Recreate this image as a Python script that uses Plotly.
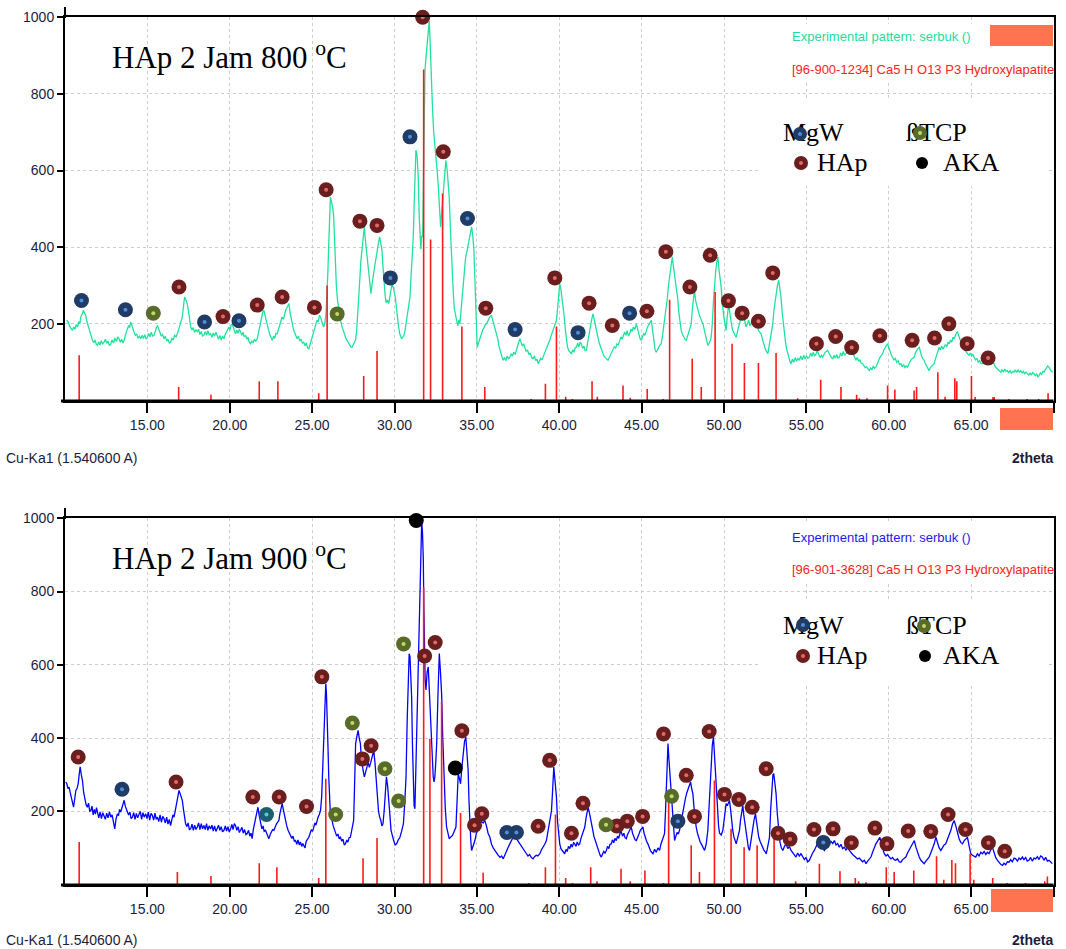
import plotly.graph_objects as go

W, H = 1066, 949
def px(x): return x / W
def py(y): return 1 - y / H

# ---------------- HAp 2 Jam 800 C ----------------
exp800 = [(10.1,210),(10.19,205),(10.27,196),(10.35,188),(10.45,183),(10.52,192),(10.6,186),(10.68,198),(10.76,192),
 (10.84,206),(10.9,200),(10.96,218),(11.04,226),(11.12,235),(11.19,228),(11.26,222),(11.33,206),(11.4,196),(11.46,183),
 (11.53,172),(11.6,165),(11.67,157),(11.75,151),(11.82,158),(11.9,147),(11.97,144),(12.05,153),(12.12,145),(12.2,156),
 (12.28,148),(12.37,152),(12.45,160),(12.53,149),(12.61,155),(12.7,143),(12.78,148),(12.86,158),(12.95,150),(13.03,163),
 (13.12,154),(13.2,166),(13.28,161),(13.36,152),(13.44,160),(13.52,150),(13.59,157),(13.66,170),(13.73,179),(13.79,187),
 (13.86,196),(13.92,190),(13.99,205),(14.06,196),(14.12,186),(14.19,179),(14.27,170),(14.35,174),(14.43,163),(14.52,168),
 (14.6,161),(14.68,170),(14.76,162),(14.84,172),(14.92,160),(15.0,165),(15.08,175),(15.16,166),(15.24,178),(15.32,168),
 (15.4,170),(15.47,182),(15.54,189),(15.61,196),(15.68,185),(15.76,178),(15.84,168),(15.92,172),(16.01,161),(16.09,168),
 (16.17,155),(16.25,160),(16.33,150),(16.41,152),(16.49,163),(16.57,158),(16.65,170),(16.74,166),(16.82,174),(16.9,186),
 (16.98,198),(17.05,210),(17.12,218),(17.19,245),(17.26,270),(17.34,262),(17.42,253),(17.5,232),(17.56,210),(17.63,192),
 (17.7,184),(17.78,190),(17.86,178),(17.95,185),(18.03,179),(18.11,186),(18.19,172),(18.27,180),(18.35,168),(18.43,170),
 (18.51,180),(18.59,170),(18.67,182),(18.75,171),(18.84,174),(18.92,165),(19.0,176),(19.08,168),(19.16,178),(19.24,170),
 (19.32,160),(19.4,170),(19.48,158),(19.56,168),(19.65,161),(19.72,172),(19.8,180),(19.88,186),(19.95,192),(20.02,184),
 (20.08,196),(20.15,200),(20.22,188),(20.28,182),(20.35,174),(20.43,184),(20.51,175),(20.58,186),(20.66,179),(20.74,170),
 (20.81,178),(20.88,166),(20.96,170),(21.04,160),(21.11,165),(21.18,152),(21.26,148),(21.34,156),(21.42,150),(21.5,160),
 (21.58,155),(21.67,161),(21.74,175),(21.8,190),(21.87,209),(21.94,222),(22.0,230),(22.07,235),(22.14,220),(22.2,212),
 (22.27,200),(22.35,185),(22.43,172),(22.5,165),(22.58,157),(22.66,168),(22.73,162),(22.8,175),(22.88,174),(22.96,186),
 (23.03,196),(23.1,205),(23.18,218),(23.26,212),(23.33,228),(23.4,236),(23.47,242),(23.53,248),(23.59,253),(23.66,230),
 (23.72,214),(23.79,200),(23.87,185),(23.95,176),(24.02,168),(24.09,161),(24.17,168),(24.25,155),(24.33,160),(24.41,150),
 (24.49,152),(24.57,143),(24.64,150),(24.72,138),(24.8,135),(24.87,145),(24.95,152),(25.02,162),(25.1,174),(25.17,190),
 (25.23,200),(25.3,209),(25.37,205),(25.44,222),(25.51,218),(25.58,205),(25.64,198),(25.71,192),(25.78,205),(25.85,230),
 (25.91,279),(25.96,340),(26.01,409),(26.06,470),(26.11,531),(26.16,522),(26.21,514),(26.26,500),(26.31,479),(26.36,420),
 (26.41,357),(26.47,300),(26.54,262),(26.62,235),(26.68,222),(26.75,205),(26.82,192),(26.9,180),(26.97,172),(27.05,162),
 (27.12,157),(27.2,150),(27.27,145),(27.35,140),(27.42,139),(27.5,145),(27.57,150),(27.63,157),(27.7,180),(27.77,220),
 (27.83,261),(27.9,320),(27.96,365),(28.03,392),(28.1,430),(28.17,453),(28.23,420),(28.29,392),(28.36,360),(28.43,331),
 (28.5,300),(28.57,279),(28.63,300),(28.68,322),(28.73,331),(28.8,350),(28.87,372),(28.94,392),(29.02,410),(29.1,427),
 (29.17,405),(29.24,392),(29.3,350),(29.37,300),(29.44,270),(29.5,255),(29.57,262),(29.65,253),(29.72,275),(29.78,290),
 (29.85,305),(29.92,296),(29.98,282),(30.05,270),(30.12,240),(30.18,212),(30.25,192),(30.31,175),(30.37,168),(30.43,161),
 (30.5,165),(30.57,170),(30.64,183),(30.72,205),(30.8,225),(30.87,248),(30.94,270),(31.0,320),(31.07,380),(31.14,427),
 (31.2,520),(31.25,600),(31.3,653),(31.37,640),(31.44,584),(31.5,480),(31.55,409),(31.6,395),(31.65,430),(31.71,427),
 (31.78,650),(31.85,862),(31.92,900),(31.99,941),(32.05,960),(32.11,990),(32.15,950),(32.19,888),(32.25,820),(32.31,758),
 (32.38,700),(32.45,671),(32.52,640),(32.59,600),(32.66,557),(32.73,500),(32.8,453),(32.88,500),(32.96,549),(33.04,590),
 (33.12,627),(33.2,600),(33.26,570),(33.32,531),(33.4,440),(33.48,350),(33.57,279),(33.63,240),(33.7,220),(33.77,209),
 (33.85,195),(33.9,210),(33.97,200),(34.05,240),(34.1,280),(34.17,322),(34.25,350),(34.32,375),(34.4,390),(34.47,409),
 (34.55,425),(34.62,440),(34.68,453),(34.75,430),(34.82,392),(34.88,300),(34.95,200),(35.02,139),(35.1,150),(35.18,162),
 (35.28,174),(35.36,185),(35.44,190),(35.52,198),(35.59,200),(35.67,210),(35.75,215),(35.82,220),(35.89,222),(35.96,210),
 (36.03,200),(36.11,185),(36.19,174),(36.27,160),(36.35,140),(36.43,125),(36.52,115),(36.6,105),(36.68,112),(36.76,104),
 (36.84,116),(36.92,108),(37.0,113),(37.08,122),(37.16,116),(37.24,126),(37.32,120),(37.4,131),(37.47,145),(37.54,152),
 (37.61,161),(37.68,150),(37.76,142),(37.84,148),(37.91,139),(37.99,128),(38.07,132),(38.16,120),(38.24,124),(38.33,112),
 (38.41,109),(38.49,116),(38.57,104),(38.65,108),(38.72,96),(38.8,104),(38.88,110),(38.95,106),(39.02,113),(39.1,122),
 (39.18,130),(39.26,140),(39.34,148),(39.42,157),(39.5,168),(39.58,178),(39.66,190),(39.75,200),(39.83,209),(39.9,240),
 (39.97,280),(40.03,305),(40.1,290),(40.17,270),(40.23,253),(40.3,220),(40.37,185),(40.43,157),(40.5,140),(40.58,130),
 (40.66,126),(40.74,122),(40.82,132),(40.9,126),(40.97,138),(41.04,139),(41.12,150),(41.19,140),(41.27,152),(41.34,148),
 (41.42,136),(41.5,142),(41.57,130),(41.65,131),(41.72,150),(41.8,172),(41.88,190),(41.96,210),(42.05,226),(42.12,210),
 (42.2,190),(42.27,178),(42.35,165),(42.43,150),(42.51,138),(42.58,128),(42.66,122),(42.73,115),(42.81,110),(42.88,108),
 (42.96,105),(43.04,112),(43.11,120),(43.19,126),(43.26,131),(43.34,140),(43.42,136),(43.5,148),(43.58,145),(43.67,157),
 (43.75,166),(43.82,160),(43.9,172),(43.97,179),(44.05,170),(44.12,182),(44.2,168),(44.27,174),(44.35,186),(44.42,180),
 (44.5,192),(44.58,185),(44.68,200),(44.75,188),(44.83,170),(44.9,162),(44.98,157),(45.06,168),(45.13,175),(45.2,170),
 (45.28,183),(45.36,192),(45.44,198),(45.52,205),(45.59,209),(45.66,185),(45.74,150),(45.82,132),(45.89,126),(45.97,135),
 (46.05,140),(46.12,145),(46.19,148),(46.27,170),(46.35,195),(46.42,215),(46.5,235),(46.57,270),(46.63,300),(46.7,322),
 (46.78,350),(46.86,375),(46.93,350),(47.0,330),(47.1,305),(47.18,270),(47.26,230),(47.33,205),(47.4,183),(47.48,172),
 (47.56,165),(47.63,160),(47.71,157),(47.79,168),(47.87,178),(47.94,190),(48.01,200),(48.08,240),(48.14,270),(48.21,287),
 (48.28,260),(48.35,245),(48.41,235),(48.49,225),(48.57,215),(48.64,208),(48.72,200),(48.8,185),(48.87,170),(48.95,155),
 (49.02,144),(49.1,150),(49.16,155),(49.22,165),(49.29,200),(49.36,260),(49.42,305),(49.5,340),(49.56,360),(49.63,375),
 (49.7,340),(49.76,320),(49.83,296),(49.88,260),(49.93,235),(50.0,215),(50.06,200),(50.13,183),(50.2,220),(50.25,240),
 (50.29,253),(50.35,230),(50.42,205),(50.48,192),(50.53,183),(50.6,175),(50.67,170),(50.74,165),(50.8,180),(50.87,190),
 (50.94,200),(51.0,212),(51.07,225),(51.14,235),(51.2,220),(51.27,200),(51.34,192),(51.42,200),(51.5,210),(51.57,195),
 (51.65,200),(51.72,215),(51.8,205),(51.88,212),(51.95,200),(52.03,190),(52.1,182),(52.18,178),(52.25,174),(52.33,160),
 (52.42,145),(52.5,135),(52.58,128),(52.66,122),(52.73,140),(52.81,160),(52.88,182),(52.96,200),(53.03,235),(53.1,260),
 (53.16,279),(53.24,300),(53.32,314),(53.39,295),(53.46,270),(53.53,230),(53.6,200),(53.67,174),(53.74,150),(53.8,135),
 (53.87,122),(53.94,110),(54.0,102),(54.07,96),(54.15,108),(54.23,100),(54.32,112),(54.4,102),(54.49,110),(54.58,105),
 (54.66,116),(54.75,106),(54.84,118),(54.92,108),(55.01,117),(55.09,110),(55.18,113),(55.26,124),(55.34,115),(55.42,126),
 (55.5,116),(55.59,122),(55.67,130),(55.75,120),(55.83,112),(55.91,118),(55.99,113),(56.07,120),(56.14,126),(56.22,128),
 (56.29,131),(56.37,124),(56.44,116),(56.52,112),(56.6,109),(56.68,118),(56.76,110),(56.84,120),(56.92,111),(57.0,113),
 (57.08,124),(57.16,116),(57.24,128),(57.32,118),(57.4,122),(57.48,130),(57.55,134),(57.63,136),(57.71,139),(57.78,128),
 (57.86,118),(57.93,110),(58.01,105),(58.09,112),(58.17,102),(58.25,106),(58.33,97),(58.41,96),(58.49,90),(58.57,86),
 (58.65,88),(58.74,82),(58.82,78),(58.9,85),(58.98,80),(59.06,90),(59.14,84),(59.22,87),(59.3,96),(59.38,104),(59.46,112),
 (59.55,118),(59.63,122),(59.7,132),(59.78,140),(59.86,144),(59.93,148),(60.0,138),(60.08,125),(60.16,118),(60.23,113),
 (60.31,106),(60.4,110),(60.48,100),(60.57,104),(60.65,94),(60.74,96),(60.82,88),(60.9,94),(60.98,86),(61.06,90),
 (61.14,87),(61.22,96),(61.3,104),(61.38,108),(61.46,110),(61.55,113),(61.62,125),(61.7,132),(61.78,136),(61.85,139),
 (61.93,125),(62.0,115),(62.08,108),(62.15,105),(62.23,96),(62.3,90),(62.38,84),(62.45,78),(62.53,86),(62.6,90),
 (62.68,94),(62.76,96),(62.83,108),(62.91,120),(62.99,130),(63.06,139),(63.14,132),(63.21,142),(63.29,134),(63.36,139),
 (63.44,146),(63.52,140),(63.6,152),(63.67,148),(63.75,158),(63.82,152),(63.9,165),(63.97,161),(64.04,172),(64.1,176),
 (64.17,179),(64.25,168),(64.33,160),(64.4,150),(64.48,148),(64.56,138),(64.63,132),(64.71,126),(64.78,122),(64.87,118),
 (64.95,124),(65.03,116),(65.1,120),(65.18,113),(65.27,106),(65.35,110),(65.43,100),(65.52,104),(65.6,96),(65.69,96),
 (65.77,104),(65.84,100),(65.92,108),(65.99,105),(66.07,98),(66.15,102),(66.23,94),(66.31,99),(66.39,96),(66.47,88),
 (66.55,84),(66.63,80),(66.72,78),(66.8,74),(66.88,80),(66.96,75),(67.04,82),(67.12,76),(67.2,78),(67.28,72),(67.36,79),
 (67.44,71),(67.53,76),(67.61,74),(67.69,80),(67.77,73),(67.85,80),(67.93,74),(68.01,78),(68.09,72),(68.17,76),(68.25,70),
 (68.33,74),(68.41,70),(68.5,66),(68.58,72),(68.66,66),(68.74,73),(68.82,70),(68.9,64),(68.98,70),(69.05,62),(69.12,65),
 (69.2,72),(69.27,68),(69.35,76),(69.42,74),(69.5,80),(69.58,84),(69.65,90),(69.73,87),(69.8,80),(69.87,76),(69.95,74)]
exp800_x = [p[0] for p in exp800]
exp800_y = [p[1] for p in exp800]

ref800_pos = [10.86,16.9,18.86,21.79,22.92,25.4,25.91,28.13,28.94,31.77,32.19,32.92,34.09,35.48,38.3,
              39.16,39.83,40.39,40.8,41.99,42.31,43.87,44.31,45.34,46.3,46.7,48.07,48.62,49.46,50.49,
              51.24,52.09,53.16,54.47,55.87,57.1,58.05,58.21,58.68,59.93,60.37,61.54,61.69,62.98,63.42,
              64.01,64.13,65.02,65.24,66.33,66.4,67.3,68.4,69.1,69.67]
ref800_h = [118,35,15,50,50,19,300,64,129,864,420,540,193,35,4,44,193,10,4,50,10,39,7,30,4,263,109,35,283,148,
            98,98,124,6,54,35,15,6,6,39,29,26,35,74,10,58,50,64,9,9,9,4,4,4,19]

hap800_x = [16.92,19.59,21.67,23.18,25.14,25.85,27.9,28.94,31.71,32.96,35.54,39.73,41.81,43.22,45.32,46.47,
            47.93,49.16,50.27,51.1,52.09,52.96,55.61,56.78,57.75,59.46,61.42,62.78,63.65,64.76,66.03]
hap800_y = [296,219,249,270,243,550,468,457,1000,649,241,320,254,196,233,388,296,379,260,228,207,333,148,167,
            138,169,157,163,200,148,111]
mgw800_x = [11.0,13.67,18.47,20.56,29.75,30.94,34.43,37.32,41.14,44.27]
mgw800_y = [261,237,205,208,320,688,475,185,177,228]
tcp800_x = [15.36,26.52]
tcp800_y = [228,226]

# ---------------- HAp 2 Jam 900 C ----------------
exp900 = [(10.05,280),(10.11,275),(10.18,262),(10.25,266),(10.32,250),(10.39,239),(10.45,225),(10.52,211),(10.59,240),
 (10.66,257),(10.73,262),(10.8,275),(10.86,300),(10.92,321),(10.99,300),(11.06,284),(11.13,252),(11.2,230),(11.28,218),
 (11.36,211),(11.43,222),(11.5,200),(11.57,202),(11.64,214),(11.71,190),(11.78,205),(11.85,192),(11.91,210),(11.97,193),
 (12.05,182),(12.13,198),(12.21,180),(12.29,196),(12.37,189),(12.45,178),(12.53,195),(12.61,182),(12.7,198),(12.78,184),
 (12.86,190),(12.94,175),(13.02,152),(13.1,180),(13.18,193),(13.25,188),(13.31,205),(13.38,198),(13.45,210),(13.52,222),
 (13.59,230),(13.66,214),(13.72,206),(13.79,202),(13.86,190),(13.94,198),(14.01,180),(14.09,184),(14.17,196),(14.25,178),
 (14.33,194),(14.41,182),(14.49,189),(14.57,200),(14.65,178),(14.73,196),(14.81,184),(14.9,193),(14.98,180),(15.06,198),
 (15.14,176),(15.22,194),(15.3,189),(15.38,176),(15.46,195),(15.54,178),(15.61,184),(15.69,172),(15.77,190),(15.85,170),
 (15.93,186),(16.01,180),(16.09,168),(16.17,184),(16.25,165),(16.33,178),(16.41,161),(16.48,175),(16.55,190),(16.62,184),
 (16.7,205),(16.78,230),(16.85,245),(16.92,257),(16.99,248),(17.05,240),(17.12,230),(17.19,205),(17.25,180),(17.32,166),
 (17.4,158),(17.47,168),(17.55,150),(17.63,152),(17.71,165),(17.79,148),(17.87,162),(17.95,150),(18.03,157),(18.11,168),
 (18.19,150),(18.27,166),(18.35,152),(18.43,161),(18.51,150),(18.59,166),(18.67,148),(18.75,160),(18.84,152),(18.92,162),
 (19.0,146),(19.08,160),(19.16,145),(19.24,152),(19.32,162),(19.4,148),(19.48,158),(19.56,144),(19.65,148),(19.73,160),
 (19.81,146),(19.89,158),(19.97,143),(20.05,152),(20.13,164),(20.2,150),(20.28,166),(20.35,161),(20.43,148),(20.51,158),
 (20.58,142),(20.66,148),(20.74,156),(20.82,140),(20.9,150),(20.98,136),(21.06,139),(21.14,148),(21.22,132),(21.29,140),
 (21.36,125),(21.43,150),(21.5,165),(21.57,175),(21.64,195),(21.71,211),(21.78,190),(21.84,172),(21.87,166),(21.95,152),
 (22.02,160),(22.09,145),(22.17,148),(22.25,138),(22.31,130),(22.37,125),(22.45,136),(22.53,142),(22.6,150),(22.68,148),
 (22.76,158),(22.83,165),(22.91,170),(22.98,175),(23.05,195),(23.11,210),(23.18,221),(23.25,205),(23.31,190),(23.38,175),
 (23.46,160),(23.54,148),(23.61,140),(23.69,134),(23.77,126),(23.84,132),(23.92,118),(23.99,120),(24.07,110),(24.14,122),
 (24.22,108),(24.29,116),(24.37,104),(24.43,112),(24.49,107),(24.57,100),(24.64,118),(24.72,122),(24.8,129),(24.88,140),
 (24.95,150),(25.03,145),(25.1,157),(25.17,168),(25.23,162),(25.3,175),(25.37,185),(25.44,192),(25.51,202),(25.58,240),
 (25.65,321),(25.7,400),(25.75,476),(25.79,520),(25.83,549),(25.87,520),(25.91,476),(25.96,380),(26.01,294),(26.06,230),
 (26.11,190),(26.16,180),(26.21,175),(26.28,160),(26.34,150),(26.41,143),(26.49,132),(26.57,138),(26.64,125),(26.72,129),
 (26.8,118),(26.87,124),(26.95,108),(27.02,111),(27.1,120),(27.17,116),(27.25,128),(27.32,129),(27.39,145),(27.46,160),
 (27.52,175),(27.57,260),(27.61,330),(27.64,385),(27.72,405),(27.79,421),(27.86,400),(27.93,385),(27.98,350),(28.03,330),
 (28.1,310),(28.17,294),(28.25,312),(28.33,321),(28.4,335),(28.47,320),(28.54,330),(28.61,345),(28.68,355),(28.74,366),
 (28.82,330),(28.9,275),(28.97,230),(29.03,200),(29.1,184),(29.17,175),(29.23,160),(29.3,166),(29.37,200),(29.44,250),
 (29.51,294),(29.58,270),(29.65,239),(29.72,190),(29.79,148),(29.87,130),(29.95,120),(30.04,108),(30.13,111),(30.23,122),
 (30.33,129),(30.43,145),(30.54,166),(30.62,220),(30.7,294),(30.77,450),(30.84,613),(30.89,630),(30.94,622),(30.99,560),
 (31.04,512),(31.09,380),(31.14,248),(31.19,215),(31.24,207),(31.29,300),(31.34,385),(31.39,470),(31.44,567),(31.5,700),
 (31.55,840),(31.6,940),(31.65,991),(31.7,960),(31.75,886),(31.78,760),(31.81,631),(31.86,560),(31.91,531),(31.98,580),
 (32.05,594),(32.1,540),(32.15,485),(32.2,420),(32.25,366),(32.3,320),(32.35,294),(32.4,280),(32.45,294),(32.5,330),
 (32.56,385),(32.64,520),(32.72,631),(32.79,580),(32.86,521),(32.93,400),(33.0,294),(33.08,210),(33.16,157),(33.24,135),
 (33.32,125),(33.42,130),(33.52,134),(33.62,145),(33.73,157),(33.8,230),(33.87,303),(33.94,290),(34.01,275),(34.09,320),
 (34.17,366),(34.25,390),(34.33,403),(34.4,360),(34.47,312),(34.52,230),(34.58,157),(34.63,120),(34.68,93),(34.78,105),
 (34.88,120),(34.97,140),(35.08,150),(35.18,166),(35.28,172),(35.38,168),(35.48,175),(35.58,160),(35.68,140),(35.79,129),
 (35.89,110),(35.99,100),(36.09,92),(36.19,84),(36.29,80),(36.4,74),(36.5,78),(36.6,70),(36.7,82),(36.8,90),(36.9,102),
 (37.0,111),(37.1,122),(37.2,130),(37.3,139),(37.4,125),(37.5,118),(37.61,111),(37.7,102),(37.8,95),(37.9,90),(38.01,84),
 (38.1,78),(38.2,82),(38.3,74),(38.41,70),(38.5,76),(38.6,80),(38.7,78),(38.82,84),(38.92,95),(39.02,102),(39.12,110),
 (39.22,120),(39.3,140),(39.38,165),(39.46,185),(39.53,202),(39.6,260),(39.67,321),(39.75,280),(39.83,239),(39.9,170),
 (39.96,130),(40.03,111),(40.1,98),(40.18,92),(40.25,88),(40.33,84),(40.41,96),(40.48,90),(40.56,104),(40.64,98),
 (40.72,110),(40.79,102),(40.87,114),(40.94,111),(41.02,104),(41.09,116),(41.17,108),(41.24,111),(41.32,126),(41.4,138),
 (41.47,148),(41.55,157),(41.62,180),(41.68,198),(41.75,211),(41.82,198),(41.88,186),(41.95,175),(42.03,150),(42.1,132),
 (42.18,120),(42.25,111),(42.33,100),(42.4,88),(42.48,80),(42.55,75),(42.63,84),(42.7,90),(42.78,86),(42.86,93),
 (42.93,104),(43.01,98),(43.08,110),(43.16,111),(43.23,122),(43.31,114),(43.38,126),(43.46,120),(43.54,132),(43.61,126),
 (43.69,140),(43.77,143),(43.84,132),(43.92,140),(43.99,128),(44.07,125),(44.14,136),(44.22,145),(44.3,150),(44.37,157),
 (44.45,140),(44.53,130),(44.6,122),(44.68,120),(44.76,132),(44.84,138),(44.92,148),(45.0,152),(45.08,157),(45.15,140),
 (45.23,126),(45.3,118),(45.38,111),(45.46,100),(45.54,92),(45.61,88),(45.69,84),(45.79,96),(45.89,88),(45.99,100),
 (46.09,93),(46.17,110),(46.24,120),(46.32,130),(46.39,139),(46.45,200),(46.52,300),(46.6,385),(46.66,340),(46.73,290),
 (46.8,248),(46.87,190),(46.93,140),(47.0,120),(47.08,132),(47.15,142),(47.23,138),(47.3,148),(47.37,165),(47.44,185),
 (47.5,202),(47.58,220),(47.66,235),(47.74,250),(47.82,262),(47.9,272),(47.97,280),(48.04,262),(48.11,248),(48.18,210),
 (48.24,180),(48.31,157),(48.39,140),(48.47,126),(48.54,118),(48.62,111),(48.72,100),(48.82,93),(48.92,110),(49.02,148),
 (49.08,200),(49.15,270),(49.22,339),(49.29,380),(49.36,403),(49.44,340),(49.52,275),(49.6,200),(49.67,160),(49.73,140),
 (49.83,135),(49.93,148),(50.0,180),(50.07,205),(50.13,221),(50.2,215),(50.27,225),(50.33,230),(50.4,205),(50.47,170),
 (50.53,148),(50.6,130),(50.67,118),(50.74,111),(50.8,122),(50.87,135),(50.94,148),(51.0,175),(51.07,200),(51.14,216),
 (51.2,190),(51.27,165),(51.34,148),(51.41,120),(51.48,100),(51.55,93),(51.62,115),(51.69,140),(51.75,157),(51.83,178),
 (51.91,193),(51.98,170),(52.04,148),(52.11,129),(52.19,118),(52.27,108),(52.35,102),(52.42,94),(52.49,90),(52.56,84),
 (52.62,95),(52.69,110),(52.76,129),(52.84,210),(52.92,294),(52.97,300),(53.02,303),(53.09,280),(53.16,248),(53.24,190),
 (53.32,139),(53.4,115),(53.48,100),(53.57,93),(53.67,104),(53.77,111),(53.87,98),(53.97,104),(54.07,93),(54.17,86),
 (54.27,80),(54.37,75),(54.47,86),(54.57,78),(54.67,84),(54.78,75),(54.88,68),(54.98,74),(55.08,62),(55.18,66),
 (55.28,78),(55.38,86),(55.48,93),(55.58,104),(55.68,112),(55.79,120),(55.89,108),(55.99,100),(56.09,93),(56.19,102),
 (56.29,108),(56.39,111),(56.49,118),(56.6,112),(56.7,120),(56.8,108),(56.9,112),(57.0,102),(57.1,110),(57.2,98),
 (57.3,102),(57.4,94),(57.5,100),(57.61,93),(57.71,86),(57.81,82),(57.91,78),(58.01,75),(58.11,70),(58.21,72),
 (58.31,66),(58.41,62),(58.52,66),(58.62,57),(58.72,64),(58.82,70),(58.92,75),(59.02,88),(59.12,100),(59.22,111),
 (59.34,120),(59.46,129),(59.55,110),(59.64,94),(59.73,84),(59.83,78),(59.93,82),(60.03,75),(60.13,70),(60.23,74),
 (60.33,68),(60.43,66),(60.53,70),(60.64,62),(60.74,61),(60.84,68),(60.94,72),(61.04,75),(61.14,86),(61.24,95),
 (61.34,102),(61.44,112),(61.55,120),(61.65,102),(61.75,86),(61.85,75),(61.95,66),(62.05,62),(62.15,57),(62.25,64),
 (62.35,70),(62.45,75),(62.55,86),(62.66,98),(62.76,111),(62.86,129),(62.96,112),(63.06,100),(63.16,93),(63.26,102),
 (63.36,108),(63.46,111),(63.56,122),(63.67,135),(63.77,148),(63.87,165),(63.97,175),(64.07,160),(64.17,139),(64.27,125),
 (64.37,115),(64.48,111),(64.58,120),(64.68,126),(64.78,129),(64.88,105),(64.98,84),(65.08,80),(65.18,78),(65.28,75),
 (65.38,84),(65.48,78),(65.59,88),(65.69,84),(65.79,90),(65.89,82),(65.99,88),(66.09,84),(66.19,95),(66.29,102),
 (66.39,88),(66.49,74),(66.6,66),(66.7,60),(66.8,55),(66.9,52),(67.0,58),(67.1,54),(67.2,62),(67.3,61),(67.4,68),
 (67.5,62),(67.61,72),(67.71,70),(67.81,64),(67.91,72),(68.01,68),(68.11,75),(68.21,68),(68.31,74),(68.41,64),
 (68.51,66),(68.61,74),(68.71,64),(68.82,72),(68.92,70),(69.02,76),(69.12,68),(69.22,78),(69.32,75),(69.42,66),
 (69.52,74),(69.63,64),(69.73,66),(69.83,60),(69.93,57)]
exp900_x = [p[0] for p in exp900]
exp900_y = [p[1] for p in exp900]

ref900_pos = [10.86,16.82,18.86,21.79,22.86,25.4,25.83,28.09,28.94,31.77,32.15,32.86,34.01,35.38,38.15,
              39.16,39.77,40.39,40.8,41.91,42.29,43.75,44.31,45.2,46.33,46.64,48.01,48.51,49.42,50.43,
              51.22,52.01,53.04,54.35,55.79,57.04,57.97,58.17,58.62,59.85,60.33,61.52,62.9,63.34,63.83,
              64.05,64.94,65.16,66.31,67.2,68.3,69.47,69.63]
ref900_h = [116,34,23,58,47,18,289,72,127,811,398,499,195,32,4,47,191,18,4,47,9,43,9,38,4,250,107,34,284,152,
            102,107,125,9,57,36,18,9,6,47,34,38,77,13,67,58,84,13,18,4,4,9,22]

hap900_x = [10.8,16.74,21.4,23.0,24.66,25.59,28.05,28.58,31.83,32.47,34.09,34.86,35.3,38.72,39.42,40.74,41.44,
            43.5,44.13,45.06,46.33,47.71,48.21,49.1,50.03,50.9,51.71,52.56,53.28,54.01,55.46,56.62,57.73,59.16,
            59.89,61.18,62.55,63.6,64.66,66.05,67.04]
hap900_y = [348,280,239,239,213,567,343,379,624,661,420,162,193,159,339,140,222,160,173,186,411,298,186,418,
            246,232,211,316,140,124,150,152,114,154,111,146,145,191,150,114,91]
mgw900_x = [13.46,36.82,37.4,47.2,56.03]
mgw900_y = [260,142,142,173,115]
tcp900_x = [26.43,27.44,29.42,30.25,30.55,42.84,46.82]
tcp900_y = [191,441,316,228,657,163,241]
aka900_x = [31.32,33.69]
aka900_y = [994,318]
unk900_x = [22.23]
unk900_y = [191]

tick_vals = [15, 20, 25, 30, 35, 40, 45, 50, 55, 60, 65, 70]
tick_text = ["%.2f" % v for v in tick_vals]
ytick_vals = [200, 400, 600, 800, 1000]
phase_names = ["MgW", "ßTCP", "HAp", "AKA"]

# ---------------- styles ----------------
C_HAP, C_HAP_IN = "#6a1e1e", "#e46a6a"
C_MGW, C_MGW_IN = "#1f3b66", "#4f8fd6"
C_TCP, C_TCP_IN = "#586b29", "#c2d86a"
C_UNK, C_UNK_IN = "#1d5e6e", "#5cc6da"
SANS = "Liberation Sans, Arial, sans-serif"
SERIF = "Liberation Serif, Times New Roman, serif"
DARK = "#1c1c3c"

fig = go.Figure()

def sticks(pos, h):
    xs, ys = [], []
    for p, v in zip(pos, h):
        xs += [p, p, None]
        ys += [0, v, None]
    return xs, ys

def add_markers(x, y, outer, inner, xa, ya, size=15):
    fig.add_trace(go.Scatter(x=x, y=y, mode="markers", xaxis=xa, yaxis=ya, showlegend=False, cliponaxis=False,
                             marker=dict(size=size, color=outer, opacity=1, line=dict(width=0))))
    if inner:
        fig.add_trace(go.Scatter(x=x, y=y, mode="markers", xaxis=xa, yaxis=ya, showlegend=False,
                                 cliponaxis=False, marker=dict(size=4, color=inner, opacity=1, line=dict(width=0))))

# top panel
fig.add_trace(go.Scatter(x=exp800_x, y=exp800_y, mode="lines", xaxis="x", yaxis="y", showlegend=False,
                         line=dict(color="#1fe29c", width=1.3)))
sx, sy = sticks(ref800_pos, ref800_h)
fig.add_trace(go.Scatter(x=sx, y=sy, mode="lines", xaxis="x", yaxis="y", showlegend=False,
                         line=dict(color="#ff1a1a", width=1.6)))
add_markers(hap800_x, hap800_y, C_HAP, C_HAP_IN, "x", "y")
add_markers(mgw800_x, mgw800_y, C_MGW, C_MGW_IN, "x", "y")
add_markers(tcp800_x, tcp800_y, C_TCP, C_TCP_IN, "x", "y")

# bottom panel
fig.add_trace(go.Scatter(x=exp900_x, y=exp900_y, mode="lines", xaxis="x2", yaxis="y2", showlegend=False,
                         line=dict(color="#0000ff", width=1.3)))
sx, sy = sticks(ref900_pos, ref900_h)
fig.add_trace(go.Scatter(x=sx, y=sy, mode="lines", xaxis="x2", yaxis="y2", showlegend=False,
                         line=dict(color="#ff1a1a", width=1.6)))
add_markers(hap900_x, hap900_y, C_HAP, C_HAP_IN, "x2", "y2")
add_markers(mgw900_x, mgw900_y, C_MGW, C_MGW_IN, "x2", "y2")
add_markers(tcp900_x, tcp900_y, C_TCP, C_TCP_IN, "x2", "y2")
add_markers(unk900_x, unk900_y, C_UNK, C_UNK_IN, "x2", "y2")
add_markers(aka900_x, aka900_y, "#000000", None, "x2", "y2")

# ---------- overlay (pixel space) for the phase legends ----------
def ov(**kw):
    fig.add_trace(go.Scatter(xaxis="x3", yaxis="y3", showlegend=False, cliponaxis=False, hoverinfo="skip", **kw))

for off, loff in [(0, 0), (500, 493)]:
    for (x0, y0, x1, y1) in [(785, 24 + off, 1051, 82 + off), (760, 100 + off, 1047, 186 + off)]:
        ov(x=[x0, x1, x1, x0, x0], y=[y0, y0, y1, y1, y0], mode="lines", fill="toself",
           fillcolor="white", line=dict(width=0))
    ov(x=[783, 906, 817, 943], y=[134 + loff, 134 + loff, 164 + loff, 164 + loff], mode="text",
       text=phase_names, textposition="middle right", textfont=dict(family=SERIF, size=26, color="black"))

leg_x = [800, 920, 801, 922, 803, 924, 803, 925]
leg_y = [134, 133, 163, 163, 625, 626, 656, 656]
leg_c = [C_MGW, C_TCP, C_HAP, "#000000"] * 2
leg_ci = [C_MGW_IN, C_TCP_IN, C_HAP_IN, "#000000"] * 2
leg_s = [14, 14, 14, 12] * 2
ov(x=leg_x, y=leg_y, mode="markers", marker=dict(size=leg_s, color=leg_c, opacity=1, line=dict(width=0)))
ov(x=leg_x, y=leg_y, mode="markers", marker=dict(size=4, color=leg_ci, opacity=1, line=dict(width=0)))

xdom = [px(65), px(1053.5)]
axis_common = dict(showline=True, linecolor="black", linewidth=2, mirror=True, automargin=False,
                   showgrid=True, gridcolor="#cdcdcd", gridwidth=1, griddash="dot", zeroline=False,
                   ticks="outside", tickcolor="black", tickwidth=1.5)
tfont = dict(family=SANS, size=14, color=DARK)

fig.update_layout(
    width=W, height=H, margin=dict(l=0, r=0, t=0, b=0, autoexpand=False),
    paper_bgcolor="white", plot_bgcolor="rgba(0,0,0,0)", showlegend=False,
    xaxis=dict(domain=xdom, range=[10, 70], anchor="y", tickvals=tick_vals, ticktext=tick_text,
               ticklen=10, tickfont=tfont, ticklabelstandoff=1, **axis_common),
    yaxis=dict(domain=[py(400.5), py(17.3)], range=[0, 1000], anchor="x", tickvals=ytick_vals,
               ticklen=6, tickfont=tfont, **axis_common),
    xaxis2=dict(domain=xdom, range=[10, 70], anchor="y2", tickvals=tick_vals, ticktext=tick_text,
                ticklen=10, tickfont=tfont, ticklabelstandoff=1, **axis_common),
    yaxis2=dict(domain=[py(884.5), py(518.3)], range=[0, 1000], anchor="x2", tickvals=ytick_vals,
                ticklen=6, tickfont=tfont, **axis_common),
    xaxis3=dict(domain=[0, 1], range=[0, W], anchor="y3", visible=False, fixedrange=True, showgrid=False),
    yaxis3=dict(domain=[0, 1], range=[H, 0], anchor="x3", visible=False, fixedrange=True, showgrid=False),
)

shapes = []
ann = []

def rect(x0, y0, x1, y1, color, layer="above"):
    shapes.append(dict(type="rect", xref="paper", yref="paper", x0=px(x0), x1=px(x1), y0=py(y1), y1=py(y0),
                       fillcolor=color, line=dict(width=0), layer=layer))

def seg(x0, y0, x1, y1, w=2):
    shapes.append(dict(type="line", xref="paper", yref="paper", x0=px(x0), x1=px(x1), y0=py(y0), y1=py(y1),
                       line=dict(color="black", width=w), layer="above"))

def text(x, y, s, size, color="black", family=SERIF, xanchor="left"):
    ann.append(dict(x=px(x), y=py(y), xref="paper", yref="paper", text=s, showarrow=False,
                    xanchor=xanchor, yanchor="middle", font=dict(family=family, size=size, color=color)))

panels = [(0, "800", "#22dd99", "[96-900-1234] Ca5 H O13 P3 Hydroxylapatite"),
          (500, "900", "#1a1aee", "[96-901-3628] Ca5 H O13 P3 Hydroxylapatite")]
for off, temp, ecol, ref in panels:
    text(110, 56 + off, "HAp 2 Jam %s <sup>o</sup>C" % temp, 31)
    text(790, 37 + off, "Experimental pattern: serbuk ()", 13, ecol, SANS)
    text(790, 69 + off, ref, 13, "#ff2222", SANS)

# axis line stubs and heavier baselines
seg(65, 7, 65, 18)
seg(65, 508, 65, 519)
seg(61, 401, 1053.5, 401, 3)
seg(61, 885, 1053.5, 885, 3)

# orange boxes
rect(990, 25, 1053, 46, "#ff7350")
rect(1000, 408, 1053, 430, "#ff7350")
rect(991, 889, 1053, 912, "#ff7350")

for yb in (458, 940):
    text(4, yb, "Cu-Ka1 (1.540600 A)", 14, DARK, SANS)
    text(1055, yb, "<b>2theta</b>", 14, DARK, SANS, xanchor="right")

fig.update_layout(shapes=shapes, annotations=ann)
fig.write_html("out.html")
